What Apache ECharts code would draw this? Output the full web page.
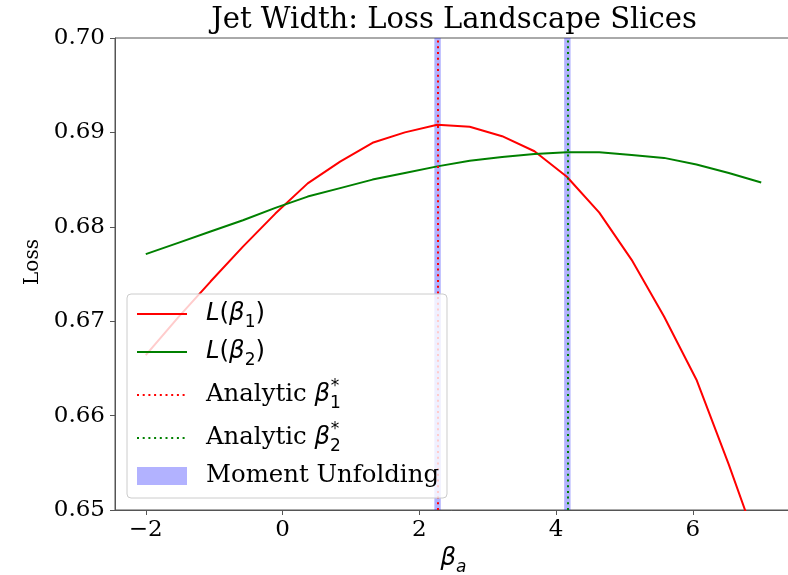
<!DOCTYPE html>
<html>
<head>
<meta charset="utf-8">
<script src="https://cdn.jsdelivr.net/npm/echarts@6/dist/echarts.min.js"></script>
<style>
  html, body { margin: 0; padding: 0; background: #fff; }
  #chart { width: 788px; height: 575px; }
</style>
</head>
<body>
<div id="chart"></div>
<script>
// Slice positions along beta_a
const betaA = [-2.000, -1.526, -1.053, -0.579, -0.105, 0.368, 0.842, 1.316, 1.789, 2.263,
               2.737, 3.211, 3.684, 4.158, 4.632, 5.105, 5.579, 6.053, 6.526, 7.000];
// Loss along the beta_1 slice
const lossBeta1 = [0.6664, 0.6704, 0.6742, 0.6779, 0.6814, 0.6846, 0.6869, 0.6889, 0.6900, 0.6908,
                   0.6906, 0.6896, 0.6880, 0.6853, 0.6815, 0.6765, 0.6705, 0.6638, 0.6548, 0.6452];
// Loss along the beta_2 slice
const lossBeta2 = [0.6771, 0.6783, 0.6795, 0.6807, 0.6820, 0.6832, 0.6841, 0.6850, 0.6857, 0.6864,
                   0.6870, 0.6874, 0.6877, 0.6879, 0.6879, 0.6876, 0.6873, 0.6866, 0.6857, 0.6847];
// Analytic optima for beta_1 and beta_2
const analyticBeta = [2.267, 4.165];
// Moment unfolding estimates and their spread
const momentUnfolding = [2.267, 4.165];
const momentSpread = [0.047, 0.047];
// Tick labels
const xTicks = [-2, 0, 2, 4, 6];
const yTicks = [0.65, 0.66, 0.67, 0.68, 0.69, 0.70];

const SERIF = '"DejaVu Serif", serif';
const SANS = '"DejaVu Sans", sans-serif';
const AXIS_COLOR = '#555';

// Rich-text styles for the math labels (line box 34px, sub/superscripts offset)
const mathRich = {
  t:    { fontFamily: SERIF, fontSize: 24.4, lineHeight: 34, color: '#000', verticalAlign: 'middle' },
  m:    { fontFamily: SANS, fontSize: 24.4, lineHeight: 34, color: '#000', verticalAlign: 'middle' },
  mi:   { fontFamily: SANS, fontStyle: 'italic', fontSize: 24.4, lineHeight: 34, color: '#000', verticalAlign: 'middle' },
  sub:  { fontFamily: SANS, fontSize: 17, lineHeight: 24, color: '#000', verticalAlign: 'bottom' },
  subi: { fontFamily: SANS, fontStyle: 'italic', fontSize: 17, lineHeight: 24, color: '#000', verticalAlign: 'bottom' },
  sup:  { fontFamily: SANS, fontSize: 17, lineHeight: 14, color: '#000', verticalAlign: 'top', padding: [0, 0, 0, -10] }
};

const legendText = {
  'L(β1)': '{mi|L}{m|(}{mi|β}{sub|1}{m|)}',
  'L(β2)': '{mi|L}{m|(}{mi|β}{sub|2}{m|)}',
  'Analytic β1*': '{t|Analytic }{mi|β}{sub|1}{sup|*}',
  'Analytic β2*': '{t|Analytic }{mi|β}{sub|2}{sup|*}',
  'Moment Unfolding': '{t|Moment Unfolding}'
};

const pairs = (ys) => betaA.map((x, i) => [x, ys[i]]);
const hiddenSymbol = { color: 'transparent', borderWidth: 0, opacity: 0 };

const chart = echarts.init(document.getElementById('chart'), null, { renderer: 'canvas' });

chart.setOption({
  animation: false,
  backgroundColor: '#fff',
  title: {
    text: 'Jet Width: Loss Landscape Slices',
    left: 449,
    top: 1,
    textAlign: 'center',
    textStyle: { fontFamily: SERIF, fontWeight: 'normal', fontSize: 29, color: '#000' }
  },
  grid: {
    left: 115, right: -4, top: 38, bottom: 65,
    outerBoundsMode: 'none',
    show: true, borderColor: AXIS_COLOR, borderWidth: 1, backgroundColor: 'transparent'
  },
  xAxis: {
    type: 'value', min: -2.45, max: 7.45,
    axisLine: { show: true, onZero: false, lineStyle: { color: AXIS_COLOR } },
    axisTick: { show: true, customValues: xTicks, length: 5, lineStyle: { color: AXIS_COLOR } },
    axisLabel: {
      customValues: xTicks, margin: 9, color: '#000', fontFamily: SERIF, fontSize: 23,
      formatter: v => (v < 0 ? '\u2212' + Math.abs(v) : String(v))
    },
    splitLine: { show: false },
    name: '{mi|β}{subi|a}',
    nameLocation: 'middle', nameGap: 28,
    nameTextStyle: { rich: mathRich }
  },
  yAxis: {
    type: 'value', min: 0.65, max: 0.70,
    axisLine: { show: true, onZero: false, lineStyle: { color: AXIS_COLOR } },
    axisTick: { show: true, customValues: yTicks, length: 5, lineStyle: { color: AXIS_COLOR } },
    axisLabel: {
      customValues: yTicks, margin: 10, color: '#000', fontFamily: SERIF, fontSize: 23,
      formatter: v => v.toFixed(2)
    },
    splitLine: { show: false },
    name: 'Loss', nameLocation: 'middle', nameGap: 71,
    nameTextStyle: { fontFamily: SERIF, fontSize: 20, color: '#000', padding: [0, 0, 0, 24] }
  },
  legend: {
    left: 127, top: 294, orient: 'vertical',
    itemWidth: 50, itemHeight: 18, itemGap: 9,
    padding: [8, 8, 10, 9],
    backgroundColor: 'rgba(255,255,255,0.8)',
    borderColor: '#ccc', borderWidth: 1, borderRadius: 4,
    textStyle: { rich: mathRich, padding: [0, 0, 0, 14] },
    formatter: name => legendText[name],
    data: [
      { name: 'L(β1)', itemStyle: hiddenSymbol },
      { name: 'L(β2)', itemStyle: hiddenSymbol },
      { name: 'Analytic β1*', itemStyle: hiddenSymbol },
      { name: 'Analytic β2*', itemStyle: hiddenSymbol },
      { name: 'Moment Unfolding', icon: 'rect', itemStyle: { color: 'rgba(0,0,255,0.3)' } }
    ]
  },
  series: [
    {
      name: 'Moment Unfolding', type: 'line', data: [], z: 1,
      symbol: 'none',
      itemStyle: { color: 'rgba(0,0,255,0.3)' },
      markArea: {
        silent: true, z: 1,
        itemStyle: { color: 'rgba(0,0,255,0.3)' },
        data: momentUnfolding.map((c, i) => [{ xAxis: c - momentSpread[i] }, { xAxis: c + momentSpread[i] }])
      }
    },
    {
      name: 'L(β1)', type: 'line', data: pairs(lossBeta1), z: 2,
      symbol: 'none', clip: true,
      lineStyle: { color: 'red', width: 2 }, itemStyle: { color: 'red' }
    },
    {
      name: 'L(β2)', type: 'line', data: pairs(lossBeta2), z: 2,
      symbol: 'none', clip: true,
      lineStyle: { color: 'green', width: 2 }, itemStyle: { color: 'green' }
    },
    {
      name: 'Analytic β1*', type: 'line', data: [], z: 3,
      symbol: 'none',
      lineStyle: { color: 'red', width: 2, type: [2, 3.7] }, itemStyle: { color: 'red' },
      markLine: {
        silent: true, z: 3, symbol: 'none', label: { show: false },
        lineStyle: { color: 'red', width: 2, type: [2, 3.7] },
        data: [{ xAxis: analyticBeta[0] }]
      }
    },
    {
      name: 'Analytic β2*', type: 'line', data: [], z: 3,
      symbol: 'none',
      lineStyle: { color: 'green', width: 2, type: [2, 3.7] }, itemStyle: { color: 'green' },
      markLine: {
        silent: true, z: 3, symbol: 'none', label: { show: false },
        lineStyle: { color: 'green', width: 2, type: [2, 3.7] },
        data: [{ xAxis: analyticBeta[1] }]
      }
    }
  ]
});
</script>
</body>
</html>
